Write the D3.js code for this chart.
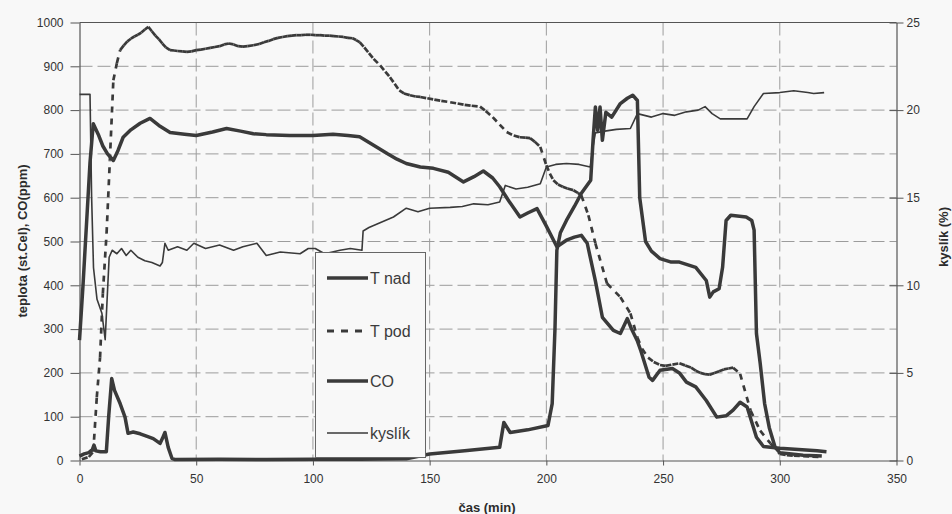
<!DOCTYPE html>
<html>
<head>
<meta charset="utf-8">
<script src="https://cdn.jsdelivr.net/npm/d3@7"></script>
<style>
  body { margin: 0; background: #f8f8f8; }
  svg { display: block; font-family: "Liberation Sans", Arial, sans-serif; }
</style>
</head>
<body>
<script>
var w = 952;
var h = 514;

// tick labels
var xTickLabels = [0, 50, 100, 150, 200, 250, 300, 350];
var leftTickLabels = [0, 100, 200, 300, 400, 500, 600, 700, 800, 900, 1000];
var rightTickLabels = [0, 5, 10, 15, 20, 25];
var seriesNames = ["T nad", "T pod", "CO", "kyslík"];

// [cas (min), teplota st.Cel]
var tNad = [[0,275],[1.5,400],[3,540],[4.5,680],[5.9,769],[8,745],[10,718],[12,700],[14.5,685],
  [16.5,708],[18.7,738],[22,755],[26,770],[30.2,781],[34,765],[38.8,749],[45,745],[50,742],
  [57,750],[63,758],[69,752],[74.5,746],[80,744],[90,742],[100,742],[108.6,745],[115,742],
  [120,739],[126,720],[131.8,701],[136,688],[140,678],[146,670],[151.6,667],[158,658],
  [164.5,636],[169,648],[173,661],[177,645],[180,625],[184,592],[188.7,556],[192,565],
  [196,575],[200,535],[204.5,488],[208.6,503],[212,510],[215,514],[217.5,496],[221,410],
  [224,327],[228.7,297],[231.7,290],[234.7,324],[236.5,300],[238.9,274],[240.5,250],[244,190],
  [245.5,183],[248.7,206],[254,210],[257,200],[260,179],[264,168],[268.5,137],[273,99],
  [277,102],[280,115],[283,133],[286,122],[290,53],[293,32],[296,30],[300,28],[308,25],
  [316,22],[320,20]];

var tPod = [[1,3],[4,8],[5.9,20],[7.4,144],[8.8,235],[10,381],[11.6,519],[13,685],[14.5,868],
  [16,907],[17.4,937],[19,948],[20.5,957],[22,963],[23.5,968],[25,972],[26.5,977],[28,984],
  [29.5,990],[31,980],[32.5,970],[34,962],[35.5,952],[37,943],[38.8,937],[40.5,936],[42,935],
  [44,934],[46,933],[48,934],[50,937],[52,938],[54,940],[56,942],[58,944],[60,946],[62,950],
  [64,952],[66,950],[68,946],[70,945],[72,946],[74.5,948],[77,951],[79,955],[81,958],[83,962],
  [85,965],[87,967],[89,969],[91,970],[93,971],[95,971],[97,972],[99,972],[101,971],[103,971],
  [105,970],[107,970],[109,969],[111,968],[113,967],[115,965],[117,964],[118.5,960],[120,955],
  [122,943],[124,930],[126,917],[128.8,902],[131,888],[133,875],[135,860],[137,845],[139,838],
  [141.6,834],[144,831],[146,830],[149,827],[152,824],[155,821],[158.8,818],[162,815],[165,812],
  [168,810],[171.6,808],[174,798],[177,784],[180,767],[183,750],[186,742],[188.6,738],[191,737],
  [193,736],[195,728],[197.4,716],[199,690],[200,674],[201.5,655],[203,640],[205,630],[207,625],
  [209,621],[211.6,617],[213.5,611],[215,605],[218,560],[221,496],[226,404],[231.7,373],
  [236,336],[239,281],[241,255],[243.6,235],[246,225],[248.7,218],[251,216],[254,219],
  [257,222],[259.5,217],[262,212],[264,205],[266,200],[268,197],[270,196],[272,200],[274,204],
  [276,208],[278,210],[280,212],[283,198],[287.5,114],[291.6,68],[296,39],[300,15],[303,12],
  [306,11],[310,10],[314,9],[318,8]];

// [cas (min), CO ppm]
var co = [[0,10],[2,15],[4,18],[5.5,25],[6.2,35],[7,22],[9,20],[11.5,20],[12.5,100],[13.8,187],
  [15,160],[17.4,130],[19.5,99],[20.8,62],[23,65],[26,61],[29,55],[31.6,50],[34.5,39],
  [35.5,50],[36.6,64],[38,30],[39.6,5],[41,2],[60,3],[80,2],[100,3],[120,3],[140,4],
  [150,15],[165,22],[180,30],[181.8,87],[184.5,64],[192,70],[200.7,80],[202.5,130],
  [203.7,302],[204.5,480],[206,520],[208.6,548],[212,580],[215,610],[219,640],[220,731],
  [221,807],[222,754],[223,807],[224,731],[225.5,795],[228,784],[231.7,815],[234.7,827],
  [237,834],[239,822],[240,600],[242.5,500],[245,478],[248.7,461],[253.5,453],[257,453],
  [264,441],[268.5,411],[270,373],[271.5,385],[274,392],[275.5,441],[277,548],[279,560],
  [285.6,556],[288,548],[289,526],[290,290],[291.6,222],[293.5,130],[295.5,75],[298,30],
  [300,18],[310,12],[318,10]];

// [cas (min), kyslik %]
var kyslik = [[0,20.9],[4.5,20.9],[5.2,15],[6,11],[7.5,9.2],[9.6,8.4],[11,6.9],[12.7,11.6],
  [14,12.0],[16,11.8],[18,12.1],[20,11.7],[22,12.0],[25,11.6],[28,11.4],[31,11.3],
  [34.5,11.1],[35.5,11.3],[36.6,12.4],[38,12.0],[42,12.2],[46,12.0],[49,12.4],[54,12.1],
  [60,12.3],[66,12.0],[70,12.2],[76,12.4],[80,11.7],[86,11.9],[94.5,11.8],[98,12.1],
  [101,12.1],[105,11.8],[111.6,12.0],[116,12.1],[121,12.0],[121.5,13.1],[124,13.3],
  [127.5,13.5],[131,13.7],[134.5,13.9],[140,14.4],[145,14.2],[150,14.4],[158.8,14.45],
  [164,14.5],[168.9,14.65],[175,14.6],[180,14.75],[182.4,15.7],[187,15.5],[192,15.6],
  [197.4,15.8],[200,16.75],[204,16.9],[208.6,16.95],[214,16.9],[218.8,16.75],[220,17.9],
  [221,18.7],[225,18.8],[230,18.9],[236,18.95],[239,19.8],[245,19.6],[250,19.8],[255,19.7],
  [260,19.9],[265,20.0],[268,20.2],[271,19.8],[274.5,19.5],[280,19.5],[286,19.5],[289,20.2],
  [293,20.95],[300,21.0],[306,21.1],[312,21.0],[314.5,20.95],[319,21.0]];

// plot box (note: "top" is taken by window.top)
var pLeft = 79.5, pRight = 896.5, pTop = 22.5, pBottom = 460.5;
var ink = "#3a3a3a";

var xScale = d3.scaleLinear().domain([0, 350]).range([pLeft, pRight]);
var yScale = d3.scaleLinear().domain([0, 1000]).range([pBottom, pTop]);
var yScaleR = d3.scaleLinear().domain([0, 25]).range([pBottom, pTop]);

var svg = d3.select("body")
  .append("svg")
  .attr("width", w)
  .attr("height", h);

svg.append("rect").attr("width", w).attr("height", h).attr("fill", "#f8f8f8");

// dashed grid
svg.append("g")
  .selectAll("line")
  .data(leftTickLabels.slice(1, -1))
  .enter()
  .append("line")
  .attr("x1", pLeft).attr("x2", pRight)
  .attr("y1", function(d) { return yScale(d); })
  .attr("y2", function(d) { return yScale(d); })
  .attr("stroke", "#9c9c9c")
  .attr("stroke-dasharray", "13,5")
  .attr("stroke-width", 1);

svg.append("g")
  .selectAll("line")
  .data(xTickLabels.slice(1, -1))
  .enter()
  .append("line")
  .attr("y1", pTop).attr("y2", pBottom)
  .attr("x1", function(d) { return xScale(d); })
  .attr("x2", function(d) { return xScale(d); })
  .attr("stroke", "#9c9c9c")
  .attr("stroke-dasharray", "13,5")
  .attr("stroke-width", 1);

// axes
var fmt = d3.format("d");
var xAxis = d3.axisBottom(xScale).tickValues(xTickLabels).tickFormat(fmt).tickSize(5).tickSizeOuter(0);
var yAxis = d3.axisLeft(yScale).tickValues(leftTickLabels).tickFormat(fmt).tickSize(9).tickSizeOuter(0);
var yAxisR = d3.axisRight(yScaleR).tickValues(rightTickLabels).tickFormat(fmt).tickSize(7).tickSizeOuter(0);

function styleAxis(g) {
  g.select(".domain").attr("stroke", "#555").attr("stroke-width", 1.2);
  g.selectAll(".tick line").attr("stroke", "#555");
  g.selectAll(".tick text")
    .attr("fill", "#333")
    .attr("font-size", "12px")
    .attr("font-family", "Liberation Sans, Arial, sans-serif");
}

svg.append("g").attr("transform", "translate(0," + pBottom + ")").call(xAxis).call(styleAxis)
  .selectAll(".tick text").attr("dy", "1.2em");
svg.append("g").attr("transform", "translate(" + pLeft + ",0)").call(yAxis).call(styleAxis)
  .selectAll(".tick text").attr("x", -16);
var gR = svg.append("g").attr("transform", "translate(" + pRight + ",0)").call(yAxisR).call(styleAxis);
gR.selectAll(".tick line").attr("x1", -7);
gR.selectAll(".tick text").attr("x", 10);

// top border
svg.append("line")
  .attr("x1", pLeft).attr("x2", pRight).attr("y1", pTop).attr("y2", pTop)
  .attr("stroke", "#555").attr("stroke-width", 1.2);

// series
var lineL = d3.line()
  .x(function(d) { return xScale(d[0]); })
  .y(function(d) { return yScale(d[1]); });
var lineR = d3.line()
  .x(function(d) { return xScale(d[0]); })
  .y(function(d) { return yScaleR(d[1]); });

svg.append("path").datum(kyslik).attr("d", lineR)
  .attr("fill", "none").attr("stroke", ink).attr("stroke-width", 1.6)
  .attr("stroke-linejoin", "round");

// T pod: dash pattern restarts on every segment, like the old spreadsheet plot
// (dense flat parts come out nearly solid, steep parts clearly dashed)
svg.append("g")
  .selectAll("path")
  .data(d3.pairs(tPod))
  .enter()
  .append("path")
  .attr("d", lineL)
  .attr("fill", "none")
  .attr("stroke", ink)
  .attr("stroke-width", 2.7)
  .attr("stroke-dasharray", "6,6");

svg.append("path").datum(co).attr("d", lineL)
  .attr("fill", "none").attr("stroke", ink).attr("stroke-width", 3.5)
  .attr("stroke-linejoin", "round");

svg.append("path").datum(tNad).attr("d", lineL)
  .attr("fill", "none").attr("stroke", ink).attr("stroke-width", 3.5)
  .attr("stroke-linejoin", "round");

// legend
var legendY = [278, 331, 381, 433];
var legendW = [3.5, 3, 3.5, 1.6];
var legendDash = [null, "7,7", null, null];

svg.append("rect")
  .attr("x", 315.5).attr("y", 252.5).attr("width", 110).attr("height", 205)
  .attr("fill", "#f8f8f8").attr("stroke", "#666").attr("stroke-width", 1);

var lg = svg.append("g").selectAll("g")
  .data(seriesNames)
  .enter()
  .append("g");

lg.append("line")
  .attr("x1", 327).attr("x2", 368)
  .attr("y1", function(d, i) { return legendY[i]; })
  .attr("y2", function(d, i) { return legendY[i]; })
  .attr("stroke", ink)
  .attr("stroke-width", function(d, i) { return legendW[i]; })
  .attr("stroke-dasharray", function(d, i) { return legendDash[i]; });

lg.append("text")
  .text(function(d) { return d; })
  .attr("x", 370)
  .attr("y", function(d, i) { return legendY[i] + 5.5; })
  .attr("font-size", "16px")
  .attr("fill", "#3c3c3c");

// axis titles
svg.append("text")
  .text("teplota (st.Cel), CO(ppm)")
  .attr("transform", "translate(27,241) rotate(-90)")
  .attr("text-anchor", "middle")
  .attr("font-size", "13px")
  .attr("font-weight", "bold")
  .attr("fill", "#2c2c2c");

svg.append("text")
  .text("kyslík (%)")
  .attr("transform", "translate(948,237) rotate(-90)")
  .attr("text-anchor", "middle")
  .attr("font-size", "13px")
  .attr("font-weight", "bold")
  .attr("fill", "#2c2c2c");

svg.append("text")
  .text("čas (min)")
  .attr("x", 487).attr("y", 512)
  .attr("text-anchor", "middle")
  .attr("font-size", "13px")
  .attr("font-weight", "bold")
  .attr("fill", "#2c2c2c");
</script>
</body>
</html>
